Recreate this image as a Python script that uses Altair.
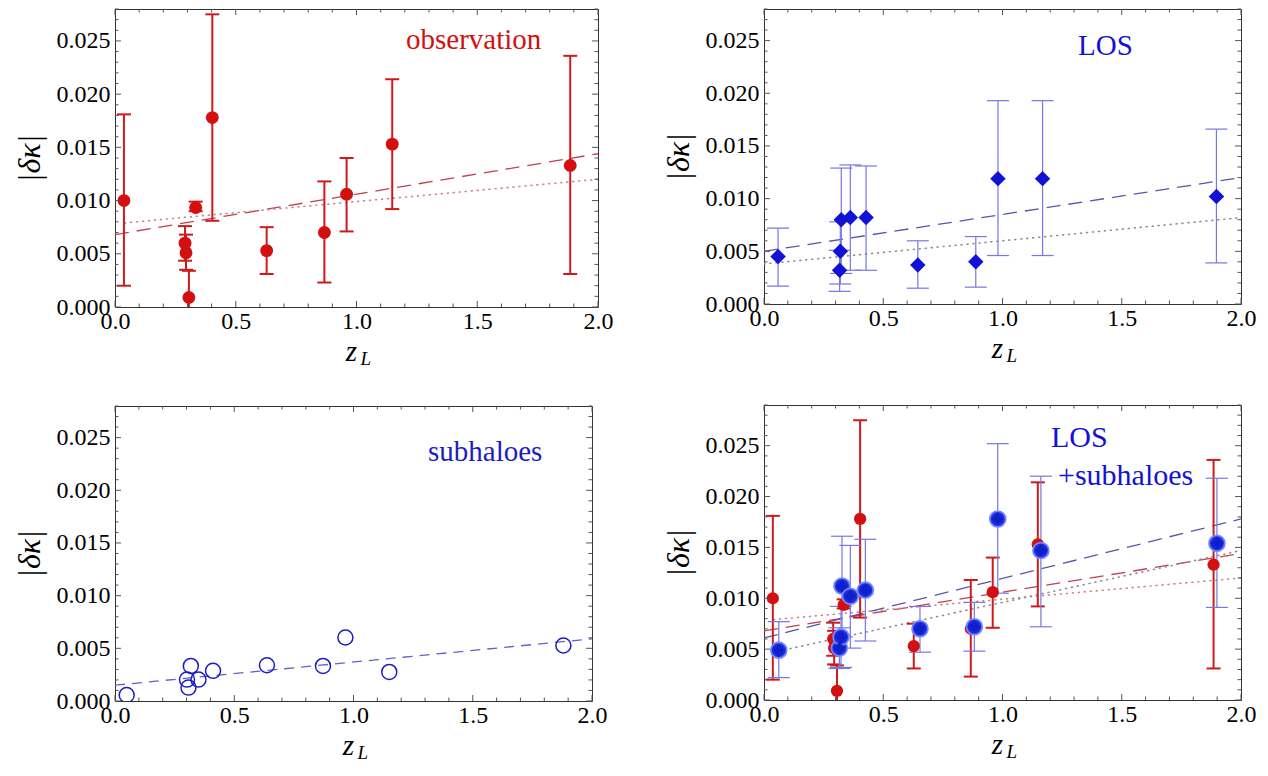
import altair as alt
import pandas as pd

FONT = "Liberation Serif"

# ---------------- data ----------------
# observation (red)
obs_z  = [0.037, 0.290, 0.294, 0.306, 0.334, 0.403, 0.628, 0.867, 0.959, 1.148, 1.885]
obs_v  = [0.0100, 0.0060, 0.0051, 0.0009, 0.00935, 0.0178, 0.0053, 0.0070, 0.0106, 0.0153, 0.0133]
obs_lo = [0.0020, 0.00435, 0.0035, -0.0016, 0.0090, 0.0081, 0.0031, 0.0023, 0.0071, 0.0092, 0.0031]
obs_hi = [0.0181, 0.0076, 0.0068, 0.0034, 0.0099, 0.0275, 0.0075, 0.0118, 0.0140, 0.0214, 0.0236]

# LOS (blue diamonds)
los_z  = [0.059, 0.317, 0.320, 0.324, 0.362, 0.428, 0.645, 0.888, 0.981, 1.168, 1.897]
los_v  = [0.0045, 0.0032, 0.0050, 0.0080, 0.0082, 0.0082, 0.0037, 0.0040, 0.0119, 0.0119, 0.0102]
los_lo = [0.0017, 0.0012, 0.0019, 0.0029, 0.0032, 0.0032, 0.0015, 0.0016, 0.0046, 0.0046, 0.0039]
los_hi = [0.0072, 0.0051, 0.0078, 0.0129, 0.0132, 0.0131, 0.0060, 0.0064, 0.0193, 0.0193, 0.0166]

# subhaloes (open circles)
sub_z = [0.049, 0.302, 0.308, 0.318, 0.350, 0.411, 0.637, 0.872, 0.966, 1.150, 1.880]
sub_v = [0.00057, 0.00203, 0.00127, 0.00333, 0.00203, 0.00286, 0.00339, 0.00333, 0.00603, 0.00276, 0.00527]

# LOS + subhaloes (blue discs)
cmb_z  = [0.062, 0.316, 0.323, 0.327, 0.362, 0.425, 0.654, 0.882, 0.980, 1.161, 1.899]
cmb_v  = [0.0049, 0.0051, 0.0062, 0.0112, 0.0102, 0.0108, 0.0070, 0.0072, 0.0178, 0.0147, 0.0154]
cmb_lo = [0.0022, 0.0031, 0.0032, 0.0062, 0.0051, 0.0058, 0.0047, 0.0048, 0.0105, 0.0072, 0.0091]
cmb_hi = [0.0077, 0.0071, 0.0092, 0.0161, 0.0152, 0.0158, 0.0092, 0.0096, 0.0252, 0.0220, 0.0218]

# fitted lines (end points)
obs_dash_z, obs_dash_v = [0.0, 2.0], [0.0068, 0.0144]
obs_dot_z,  obs_dot_v  = [0.04, 2.0], [0.0079, 0.0120]
los_dash_z, los_dash_v = [0.0, 2.0], [0.0050, 0.0120]
los_dot_z,  los_dot_v  = [0.0, 2.0], [0.0038, 0.0082]
sub_dash_z, sub_dash_v = [0.0, 2.0], [0.0015, 0.0059]
cmb_dash_z, cmb_dash_v = [0.0, 2.0], [0.0061, 0.0178]
cmb_dot_z,  cmb_dot_v  = [0.06, 2.0], [0.0048, 0.0147]

# axis ticks
X_MAJOR = [0.0, 0.5, 1.0, 1.5, 2.0]
X_MINOR = [round(i * 0.1, 1) for i in range(21) if i % 5]
Y_MAJOR = [0.0, 0.005, 0.010, 0.015, 0.020, 0.025]

# ---------------- colours ----------------
RED = "#d30f0f"
RED_BAR = "#cf1a1a"
BLUE = "#1212d6"
BLUE_BAR = "#7676e6"
SUB_BLUE = "#1c1cc4"
DISC = "#1a2ce0"
DISC_RING = "#7486ff"
OBS_DASH = "#c0404f"
OBS_DOT = "#c98590"
LOS_DASH = "#5656aa"
GRAY_DOT = "#8c8c9a"
SUB_DASH = "#6262c8"
TICK = "#555555"


def make_panel(W, H, ymax, data_layers):
    xs = alt.Scale(domain=[0, 2], nice=False, zero=False)
    ys = alt.Scale(domain=[0, ymax], nice=False, zero=False)
    xaxis = alt.Axis(values=X_MAJOR, format=".1f", labelFlush=False, labelOverlap=False,
                     ticks=False, domain=False, grid=False, labelFont=FONT,
                     labelFontSize=24, labelColor="black", labelPadding=2, title=None)
    yaxis = alt.Axis(values=Y_MAJOR, format=".3f", labelOverlap=False, labelFlush=False,
                     ticks=False, domain=False, grid=False, labelFont=FONT,
                     labelFontSize=24, labelColor="black", labelPadding=5,
                     title="|δκ|", titleFont=FONT, titleFontSize=32,
                     titleFontStyle="italic", titleFontWeight="normal",
                     titleColor="black", titlePadding=10)

    def X(f):
        return alt.X(f"{f}:Q", scale=xs, axis=xaxis)

    def Y(f):
        return alt.Y(f"{f}:Q", scale=ys, axis=yaxis)

    layers = [lay(X, Y) for lay in data_layers]

    y_minor = [round(i * 0.001, 3) for i in range(int(round(ymax * 1000)) + 1) if i % 5]
    dxM = pd.DataFrame({"z": X_MAJOR})
    dxm = pd.DataFrame({"z": X_MINOR})
    dyM = pd.DataFrame({"v": Y_MAJOR})
    dym = pd.DataFrame({"v": y_minor})
    LM, Lm = 6, 3.5
    for d, L in [(dxM, LM), (dxm, Lm)]:
        layers.append(alt.Chart(d).mark_rule(color=TICK, strokeWidth=1).encode(
            x=X("z"), y=alt.value(H), y2=alt.value(H - L)))
        layers.append(alt.Chart(d).mark_rule(color=TICK, strokeWidth=1).encode(
            x=X("z"), y=alt.value(0), y2=alt.value(L)))
    for d, L in [(dyM, LM), (dym, Lm)]:
        layers.append(alt.Chart(d).mark_rule(color=TICK, strokeWidth=1).encode(
            y=Y("v"), x=alt.value(0), x2=alt.value(L)))
        layers.append(alt.Chart(d).mark_rule(color=TICK, strokeWidth=1).encode(
            y=Y("v"), x=alt.value(W), x2=alt.value(W - L)))

    # x-axis title z_L
    layers.append(alt.Chart(pd.DataFrame({"t": ["z"]})).mark_text(
        font=FONT, fontSize=29, fontStyle="italic", color="black",
        align="center", baseline="alphabetic").encode(
        text="t:N", x=alt.value(W / 2 - 5), y=alt.value(H + 54)))
    layers.append(alt.Chart(pd.DataFrame({"t": ["L"]})).mark_text(
        font=FONT, fontSize=19, fontStyle="italic", color="black",
        align="left", baseline="alphabetic").encode(
        text="t:N", x=alt.value(W / 2 + 4), y=alt.value(H + 58)))

    return alt.layer(*layers).properties(width=W, height=H)


def df(**kw):
    return pd.DataFrame(kw)


def line_layer(zs, vs, color, dash, width=1.3):
    def f(X, Y):
        return alt.Chart(df(z=zs, v=vs)).mark_line(
            color=color, strokeDash=dash, strokeWidth=width, clip=True,
            strokeCap="round" if dash[0] <= 1.5 else "butt").encode(x=X("z"), y=Y("v"))
    return f


def bars_layer(zs, lo, hi, color, width, cap):
    d = df(z=zs, lo=lo, hi=hi)

    def f(X, Y):
        r = alt.Chart(d).mark_rule(color=color, strokeWidth=width, clip=True).encode(
            x=X("z"), y=Y("lo"), y2="hi")
        c1 = alt.Chart(d).mark_tick(color=color, orient="horizontal", size=cap,
                                    thickness=width, clip=True, opacity=1).encode(x=X("z"), y=Y("lo"))
        c2 = alt.Chart(d).mark_tick(color=color, orient="horizontal", size=cap,
                                    thickness=width, clip=True, opacity=1).encode(x=X("z"), y=Y("hi"))
        return alt.layer(r, c1, c2)
    return f


def points_layer(zs, vs, **mk):
    def f(X, Y):
        return alt.Chart(df(z=zs, v=vs)).mark_point(opacity=1, clip=True, **mk).encode(
            x=X("z"), y=Y("v"))
    return f


def text_layer(txt, x, y, color, size):
    def f(X, Y):
        return alt.Chart(df(t=[txt])).mark_text(
            font=FONT, fontSize=size, color=color, align="left", baseline="alphabetic").encode(
            text="t:N", x=alt.value(x), y=alt.value(y))
    return f


DOT = [1, 5]
DASH_L = [14, 8]
DASH_S = [10, 7]

p1 = make_panel(483, 298, 0.028, [
    line_layer(obs_dash_z, obs_dash_v, OBS_DASH, DASH_L),
    line_layer(obs_dot_z, obs_dot_v, OBS_DOT, DOT, 1.6),
    bars_layer(obs_z, obs_lo, obs_hi, RED_BAR, 2, 14),
    points_layer(obs_z, obs_v, shape="circle", filled=True, size=165, color=RED),
    text_layer("observation", 291, 40, RED, 29),
])

p2 = make_panel(477, 295, 0.028, [
    line_layer(los_dash_z, los_dash_v, LOS_DASH, DASH_L),
    line_layer(los_dot_z, los_dot_v, GRAY_DOT, DOT, 1.6),
    bars_layer(los_z, los_lo, los_hi, BLUE_BAR, 1.2, 22),
    points_layer(los_z, los_v, shape="diamond", filled=True, size=240, color=BLUE),
    text_layer("LOS", 314, 46, BLUE, 29),
])

p3 = make_panel(477, 295, 0.028, [
    line_layer(sub_dash_z, sub_dash_v, SUB_DASH, DASH_S),
    points_layer(sub_z, sub_v, shape="circle", filled=False, size=225, color=SUB_BLUE,
                 strokeWidth=1.5),
    text_layer("subhaloes", 313, 55, SUB_BLUE, 29),
])

p4 = make_panel(477, 295, 0.029, [
    line_layer(obs_dash_z, obs_dash_v, OBS_DASH, DASH_L),
    line_layer(obs_dot_z, obs_dot_v, OBS_DOT, DOT, 1.6),
    line_layer(cmb_dash_z, cmb_dash_v, LOS_DASH, DASH_L),
    line_layer(cmb_dot_z, cmb_dot_v, GRAY_DOT, DOT, 1.6),
    bars_layer(obs_z, obs_lo, obs_hi, RED_BAR, 2, 14),
    bars_layer(cmb_z, cmb_lo, cmb_hi, BLUE_BAR, 1.2, 22),
    points_layer(obs_z, obs_v, shape="circle", filled=True, size=150, color=RED),
    points_layer(cmb_z, cmb_v, shape="circle", filled=True, size=250, color=DISC,
                 stroke=DISC_RING, strokeWidth=1.8),
    points_layer(cmb_z, cmb_v, shape="diamond", filled=True, size=150, color="#1020c8"),
    text_layer("LOS", 287, 42, BLUE, 30),
    text_layer("+subhaloes", 294, 80, BLUE, 30),
])

chart = alt.hconcat(
    alt.vconcat(p1, p3, spacing=35),
    alt.vconcat(p2, p4, spacing=37),
    spacing=47,
).properties(
    padding={"left": 4, "top": 0, "right": 0, "bottom": 0},
    background="white",
).configure_view(stroke="#333333", strokeWidth=1)

chart.save("out.html", embed_options={"renderer": "svg", "actions": False})
